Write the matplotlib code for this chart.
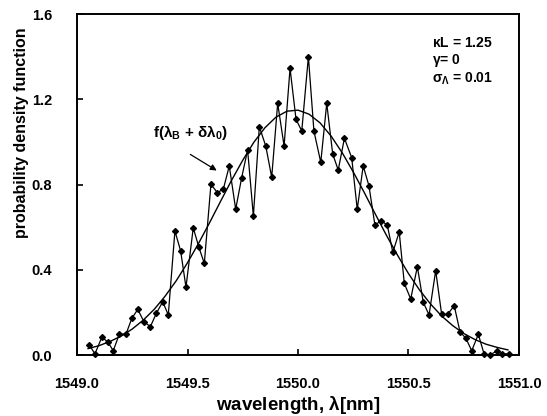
"""Reflection wavelength pdf: simulated histogram vs. analytic curve."""
from __future__ import annotations

import matplotlib
matplotlib.use("Agg")
import matplotlib.pyplot as plt

matplotlib.rc("font", family="Liberation Sans", weight="bold")
matplotlib.rc("axes", labelweight="bold")
matplotlib.rc("mathtext", fontset="custom", rm="Liberation Sans:bold",
              it="Liberation Sans:bold", bf="Liberation Sans:bold", default="rm")

# simulated pdf (markers + jagged line)
sim_wl = [
    1549.056, 1549.081, 1549.112, 1549.139, 1549.164, 1549.191, 1549.222, 1549.248,
    1549.275, 1549.303, 1549.332, 1549.359, 1549.388, 1549.413, 1549.443, 1549.469,
    1549.493, 1549.526, 1549.551, 1549.576, 1549.606, 1549.635, 1549.662, 1549.689,
    1549.718, 1549.745, 1549.772, 1549.798, 1549.825, 1549.854, 1549.881, 1549.908,
    1549.937, 1549.964, 1549.991, 1550.017, 1550.047, 1550.072, 1550.103, 1550.130,
    1550.157, 1550.182, 1550.210, 1550.243, 1550.268, 1550.295, 1550.321, 1550.348,
    1550.376, 1550.404, 1550.429, 1550.458, 1550.481, 1550.510, 1550.540, 1550.567,
    1550.593, 1550.623, 1550.650, 1550.677, 1550.707, 1550.733, 1550.760, 1550.786,
    1550.816, 1550.842, 1550.869, 1550.899, 1550.924, 1550.955,
]
sim_pdf = [
    0.047, 0.005, 0.083, 0.062, 0.020, 0.097, 0.099, 0.172,
    0.214, 0.156, 0.133, 0.196, 0.250, 0.188, 0.582, 0.488,
    0.318, 0.597, 0.507, 0.430, 0.801, 0.762, 0.778, 0.887,
    0.684, 0.832, 0.962, 0.652, 1.071, 0.981, 0.834, 1.181,
    0.981, 1.345, 1.106, 1.051, 1.400, 1.051, 0.904, 1.181,
    0.943, 0.868, 1.017, 0.926, 0.684, 0.887, 0.794, 0.610,
    0.630, 0.610, 0.482, 0.577, 0.336, 0.263, 0.414, 0.247,
    0.188, 0.396, 0.191, 0.191, 0.231, 0.109, 0.078, 0.020,
    0.097, 0.005, 0.000, 0.019, 0.005, 0.005,
]

# analytic f(lambda_B + d lambda_0)
fit_wl = [
    1549.05, 1549.10, 1549.15, 1549.20, 1549.25, 1549.30, 1549.35, 1549.40,
    1549.45, 1549.50, 1549.55, 1549.60, 1549.65, 1549.70, 1549.75, 1549.80,
    1549.85, 1549.90, 1549.95, 1550.00, 1550.05, 1550.10, 1550.15, 1550.20,
    1550.25, 1550.30, 1550.35, 1550.40, 1550.45, 1550.50, 1550.55, 1550.60,
    1550.65, 1550.70, 1550.75, 1550.80, 1550.85, 1550.90, 1550.95,
]
fit_pdf = [
    0.030, 0.044, 0.064, 0.089, 0.122, 0.164, 0.215, 0.278,
    0.350, 0.433, 0.524, 0.621, 0.722, 0.821, 0.914, 0.998,
    1.066, 1.116, 1.144, 1.149, 1.130, 1.089, 1.027, 0.949,
    0.859, 0.762, 0.661, 0.562, 0.469, 0.382, 0.305, 0.239,
    0.183, 0.138, 0.101, 0.073, 0.051, 0.036, 0.024,
]

x_ticks = [1549.0, 1549.5, 1550.0, 1550.5, 1551.0]
y_ticks = [0.0, 0.4, 0.8, 1.2, 1.6]
params = [r"$\kappa$L = 1.25", r"$\gamma$= 0", r"$\sigma_\Lambda$ = 0.01"]


def main() -> None:
    fig = plt.figure(figsize=(5.47, 4.16), dpi=100)
    ax = fig.add_axes([0.1408, 0.1466, 0.808, 0.8197])

    ax.plot(sim_wl, sim_pdf, color="black", lw=0.9, marker="D", ms=3.0,
            clip_on=False)
    ax.plot(fit_wl, fit_pdf, color="black", lw=1.0)

    ax.set_xlim(x_ticks[0], x_ticks[-1])
    ax.set_ylim(y_ticks[0], y_ticks[-1])
    ax.set_xticks(x_ticks)
    ax.set_yticks(y_ticks)
    ax.set_xticklabels([f"{v:.1f}" for v in x_ticks])
    ax.set_yticklabels([f"{v:.1f}" for v in y_ticks])
    ax.tick_params(direction="in", length=4, width=1.2, labelsize=10.5)
    ax.tick_params(axis="x", pad=16)
    ax.tick_params(axis="y", pad=18)
    for sp in ax.spines.values():
        sp.set_linewidth(1.4)

    ax.set_xlabel(r"wavelength, $\lambda$[nm]", fontsize=13.5, labelpad=2)
    ax.set_ylabel("probability density function", fontsize=11.5)
    # label sits high on the left side in the original
    ax.yaxis.set_label_coords(-0.108, 0.651)

    for txt, y in zip(params, [1.464, 1.384, 1.295]):
        ax.text(1550.605, y, txt, fontsize=10, va="center", ha="left")

    ax.text(1549.344, 1.042, r"f($\lambda_B$ + $\delta\lambda_0$)",
            fontsize=11, va="center", ha="left")
    ax.annotate("", xy=(1549.643, 0.859), xytext=(1549.502, 0.948),
                arrowprops=dict(arrowstyle="-|>", color="black", lw=0.9,
                                mutation_scale=9))

    fig.savefig("out.png", dpi=100)
    plt.close(fig)


if __name__ == "__main__":
    main()
